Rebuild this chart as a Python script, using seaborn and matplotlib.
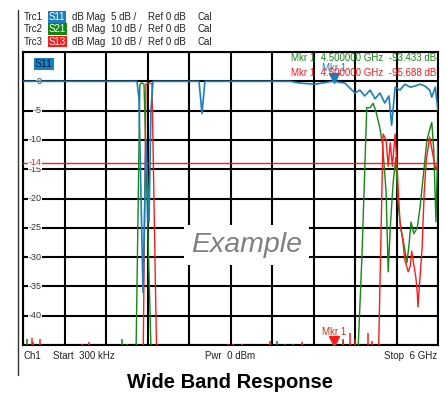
import numpy as np
import matplotlib
matplotlib.use('Agg')
import matplotlib.pyplot as plt
import seaborn as sns
from matplotlib.lines import Line2D

# trace data, frequency in GHz, level in dB
s11_f = [0.0003, 1.30, 1.648, 1.677, 1.735, 1.778, 1.822, 1.850, 1.880, 2.545, 2.588, 2.630,
         3.86, 4.005, 4.22, 4.48, 4.655, 4.73, 4.80, 4.87, 4.94, 5.02, 5.09, 5.16, 5.23,
         5.29, 5.33, 5.38, 5.45, 5.52, 5.60, 5.67, 5.74, 5.81, 5.88, 5.91, 5.96, 6.0]
s11_db = [0, 0, 0, -3, -36, -10, -24, -5, 0, 0, -5.5, 0,
          0, -0.3, -0.5, 0, -0.3, -1.2, -2, -1.5, -2.5, -1.5, -3, -2, -3.7,
          -2.5, -7.5, -1, -1.5, -0.5, -1, -0.8, -0.5, -0.8, -1.5, -2.7, -1, -5]

s21_f = [0.0003, 1.63, 1.69, 1.72, 1.75, 1.86, 4.83, 4.90, 4.97, 5.02, 5.06, 5.10, 5.16,
         5.20, 5.25, 5.28, 5.31, 5.35, 5.39, 5.42, 5.46, 5.51, 5.55, 5.58, 5.61, 5.65,
         5.70, 5.74, 5.78, 5.84, 5.91, 5.94, 5.97, 6.0]
s21_db = [-100, -100, -1, -0.5, -1, -100, -100, -60, -9, -9, -7.5, -10, -16,
          -22, -38, -65, -50, -35, -26, -41, -50, -56, -62, -56, -48, -52,
          -50, -43, -34, -20, -14, -24, -48, -20]

s13_f = [0.0003, 1.735, 1.778, 1.836, 1.865, 1.937, 5.134, 5.206, 5.25, 5.28, 5.31, 5.34,
         5.38, 5.41, 5.45, 5.49, 5.52, 5.57, 5.60, 5.62, 5.68, 5.70, 5.71, 5.74, 5.77,
         5.80, 5.83, 5.88, 5.91, 5.94, 5.97, 6.0]
s13_db = [-100, -100, -1, -0.5, -1, -100, -100, -18, -20, -29, -21, -29,
          -18, -30, -48, -54, -61, -65, -63, -58, -67, -72, -77, -67, -57,
          -38, -27, -19, -23, -27, -30, -28]

# noise spikes near the bottom of the screen
s21_spike_f = [0.058, 0.145, 1.43, 1.50, 3.67, 3.79, 3.90, 4.48, 4.63]
s21_spike_db = [-88, -89, -88, -89.5, -88.5, -89.5, -89.5, -89.5, -88]
s13_spike_f = [0.13, 0.246, 0.85, 0.954, 2.96, 3.04, 3.17, 3.57, 4.03, 4.63, 4.73, 4.80, 4.99, 5.05]
s13_spike_db = [-87.5, -88, -89.5, -89, -89.5, -89.5, -89.5, -88.5, -89, -88.5, -86, -88, -86, -88.5]

s11_ticks = [0, -5, -10, -15, -20, -25, -30, -35, -40]
limit_db = -14
mkr_f = 4.5

BLUE = '#1a7fc1'
GREEN = '#118811'
RED = '#ff1a1a'

sns.set_theme(style='white')
plt.rcParams['font.family'] = ['Liberation Sans', 'DejaVu Sans']

W, H = 446, 394
fig = plt.figure(figsize=(W / 100, H / 100), dpi=100)


def px(x, y):
    return x / W, 1 - y / H


ax = fig.add_axes([23 / W, 1 - 345 / H, 415 / W, 293 / H])
ax.set_xlim(0.0003, 6.0)
ax.set_ylim(-45, 5)
ax.set_xticks(np.linspace(0.0003, 6.0, 11))
ax.set_yticks(np.arange(-45, 6, 5))
ax.tick_params(labelleft=False, labelbottom=False, length=0)
ax.grid(True, color='black', lw=1.5)
for s in ax.spines.values():
    s.set_color('black')
    s.set_linewidth(1.5)

ax2 = ax.twinx()
ax2.set_ylim(-90, 10)
ax2.tick_params(labelright=False, length=0)
ax2.grid(False)
for s in ax2.spines.values():
    s.set_visible(False)

# limit line
ax.axhline(limit_db, color=RED, lw=1, zorder=3)

# tick labels drawn inside the grid like the analyzer screen
for t in s11_ticks:
    ax.text(0.27, t, str(t), ha='right', va='center', fontsize=6.5,
            color='#333333', zorder=4,
            bbox=dict(fc='white', ec='none', pad=0.3))
ax.text(0.27, limit_db + 0.2, str(limit_db), ha='right', va='center', fontsize=6.5,
        color=RED, zorder=5, bbox=dict(fc='white', ec='none', pad=0.1))

# watermark
ax2.text(3.23, -56, 'Example', ha='center', va='center', fontsize=20.5, style='italic',
         color='#808080', zorder=2,
         bbox=dict(fc='white', ec='none', boxstyle='square,pad=0.25'))

ax2.vlines(s21_spike_f, -100, s21_spike_db, color=GREEN, lw=1.1, zorder=3)
ax2.vlines(s13_spike_f, -100, s13_spike_db, color=RED, lw=1.1, zorder=3)

sns.lineplot(x=s21_f, y=s21_db, ax=ax2, color=GREEN, lw=1, estimator=None, zorder=4)
sns.lineplot(x=s13_f, y=s13_db, ax=ax2, color=RED, lw=1, estimator=None, zorder=5)
sns.lineplot(x=s11_f, y=s11_db, ax=ax2, color=BLUE, lw=1.2, estimator=None, zorder=6,
             transform=ax.transData)
ax2.set_xlim(0.0003, 6.0)
ax2.set_xlabel('')
ax2.set_ylabel('')
ax.set_ylabel('')

# markers
ax.plot([mkr_f], [0.6], marker='v', color=BLUE, ms=7, zorder=7, clip_on=False)
ax.text(mkr_f, 2.3, 'Mkr 1', ha='center', va='center', fontsize=7, color=BLUE, zorder=7)
ax.plot([mkr_f], [-44.3], marker='v', color=RED, ms=7, zorder=7)
ax.text(mkr_f, -42.7, 'Mkr 1', ha='center', va='center', fontsize=7, color='#c0301a', zorder=7)

ax.text(5.97, 4.0, 'Mkr 1  4.500000 GHz  -93.433 dB', ha='right', va='center', fontsize=7,
        color=GREEN, zorder=8)
ax.text(5.97, 1.45, 'Mkr 1  4.500000 GHz  -95.688 dB', ha='right', va='center', fontsize=7,
        color=RED, zorder=8)

ax.text(0.3, 2.9, 'S11', ha='center', va='center', fontsize=7.5, color='#0a1e3a', zorder=8,
        bbox=dict(fc=BLUE, ec='none', pad=0.8))

# header
rows = [('Trc1', 'S11', BLUE, '5 dB /'), ('Trc2', 'S21', GREEN, '10 dB /'),
        ('Trc3', 'S13', RED, '10 dB /')]
for i, (trc, par, col, scale) in enumerate(rows):
    y = 17 + i * 12.3
    fig.text(*px(24, y), trc, fontsize=7, va='center', color='#222222')
    fig.text(*px(49, y), par, fontsize=7, va='center', color='white',
             bbox=dict(fc=col, ec='none', pad=0.6))
    fig.text(*px(72, y), 'dB Mag', fontsize=7, va='center', color='#222222')
    fig.text(*px(111, y), scale, fontsize=7, va='center', color='#222222')
    fig.text(*px(148, y), 'Ref 0 dB', fontsize=7, va='center', color='#222222')
    fig.text(*px(198, y), 'Cal', fontsize=7, va='center', color='#222222')

# footer
fig.text(*px(24, 356), 'Ch1', fontsize=7, va='center', color='#222222')
fig.text(*px(53, 356), 'Start  300 kHz', fontsize=7, va='center', color='#222222')
fig.text(*px(230, 356), 'Pwr  0 dBm', fontsize=7, va='center', ha='center', color='#222222')
fig.text(*px(437, 356), 'Stop  6 GHz', fontsize=7, va='center', ha='right', color='#222222')

fig.text(*px(230, 383), 'Wide Band Response', fontsize=14.5, fontweight='bold',
         ha='center', va='center', color='black')

fig.add_artist(Line2D([18 / W, 18 / W], [1 - 10 / H, 1 - 375 / H], color='#333333', lw=1))

fig.savefig('out.png', dpi=100)
